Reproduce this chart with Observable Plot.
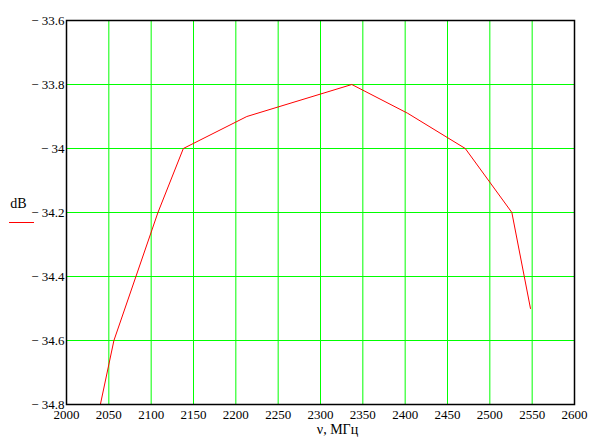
<!DOCTYPE html>
<html>
<head>
<meta charset="utf-8">
<script src="https://cdn.jsdelivr.net/npm/d3@7"></script>
<script src="https://cdn.jsdelivr.net/npm/@observablehq/plot@0.6"></script>
<style>
  html, body { margin: 0; padding: 0; background: #fff; }
  #chart { width: 603px; height: 447px; }
  #chart svg, #chart svg text { font-family: "Liberation Serif", "Times New Roman", serif !important; }
</style>
</head>
<body>
<div id="chart"></div>
<script>
// Frequencies (MHz) and level (dB)
const freq = [2040, 2056, 2108, 2138, 2213, 2337, 2403, 2471, 2526, 2548];
const level = [-34.8, -34.6, -34.2, -34.0, -33.9, -33.8, -33.89, -34.0, -34.2, -34.5];

const xTicks = [2000, 2050, 2100, 2150, 2200, 2250, 2300, 2350, 2400, 2450, 2500, 2550, 2600];
const yTicks = [-33.6, -33.8, -34.0, -34.2, -34.4, -34.6, -34.8];
const xLabel = "ν, МГц";
const yLabel = "dB";

const data = freq.map((f, i) => ({f, v: level[i]}));

const fontFamily = "Liberation Serif";

const chart = Plot.plot({
  width: 603,
  height: 447,
  marginLeft: 66,
  marginRight: 29,
  marginTop: 20,
  marginBottom: 43,
  style: "font-family: 'Liberation Serif', serif; font-size: 13px; background: #fff; color: #000;",
  x: {domain: [2000, 2600], ticks: xTicks},
  y: {domain: [-34.8, -33.6], ticks: yTicks},
  marks: [
    Plot.ruleX(xTicks.slice(1, -1), {stroke: "#00ff00", strokeWidth: 1, strokeOpacity: 1}),
    Plot.ruleY(yTicks.slice(1, -1), {stroke: "#00ff00", strokeWidth: 1, strokeOpacity: 1}),
    Plot.line(data, {x: "f", y: "v", stroke: "#ff0000", strokeWidth: 1, clip: true}),
    Plot.frame({stroke: "#000", strokeWidth: 1.5}),
    Plot.axisX({ticks: xTicks, tickSize: 0, tickPadding: 5, label: null, fontFamily, fontSize: 13,
      tickFormat: d => String(d)}),
    Plot.axisY({ticks: yTicks, tickSize: 0, tickPadding: 2, label: null, fontFamily, fontSize: 13,
      tickFormat: d => "\u2212 " + String(+Math.abs(d).toFixed(1))}),
    Plot.text([xLabel], {text: d => d, frameAnchor: "bottom", dx: 17, dy: 29, textAnchor: "middle", fontSize: 14, fontFamily}),
    Plot.text([yLabel], {text: d => d, frameAnchor: "left", dx: -48, dy: -9, textAnchor: "middle", fontSize: 14, fontFamily})
  ]
});

document.getElementById("chart").appendChild(chart);

// legend swatch under the "dB" label
const svg = d3.select(chart);
svg.append("line")
  .attr("x1", 9).attr("x2", 34)
  .attr("y1", 222.5).attr("y2", 222.5)
  .attr("stroke", "#ff0000").attr("stroke-width", 1);
</script>
</body>
</html>
